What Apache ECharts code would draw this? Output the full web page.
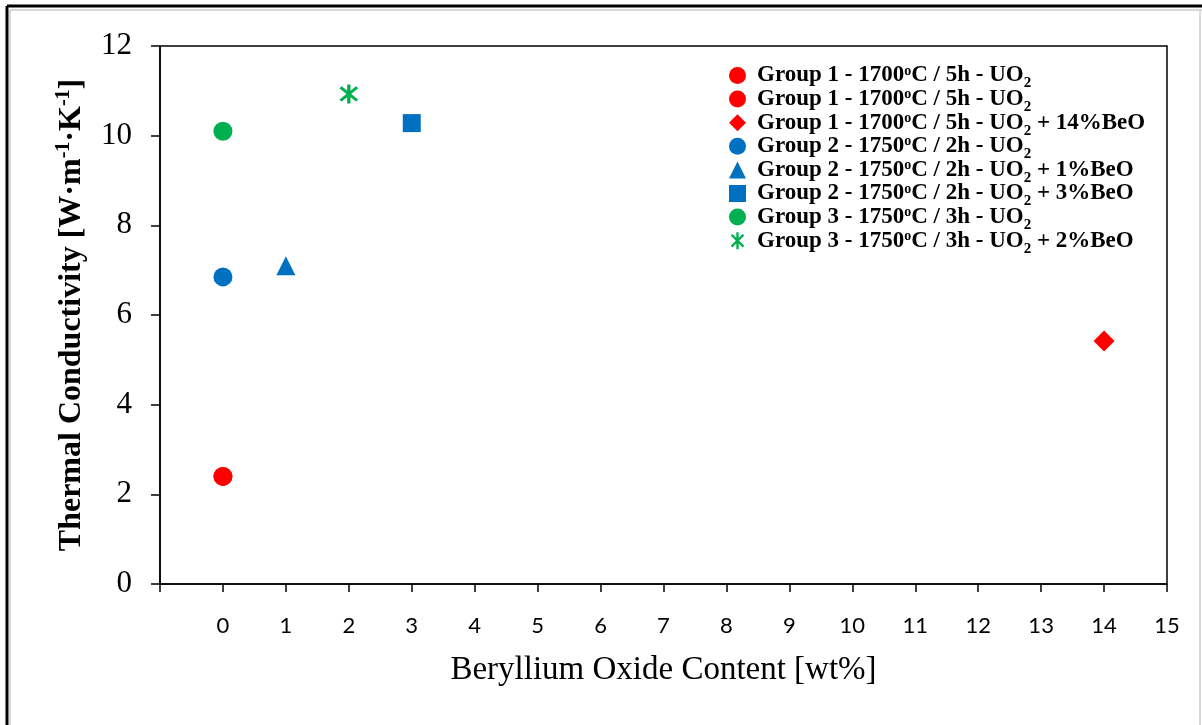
<!DOCTYPE html>
<html>
<head>
<meta charset="utf-8">
<script src="https://cdn.jsdelivr.net/npm/echarts@6/dist/echarts.min.js"></script>
<style>html,body{margin:0;padding:0;background:#fff;}#c{width:1202px;height:725px;}</style>
</head>
<body>
<div id="c"></div>
<script>
// Data
const seriesNames = [
  'G1 UO2 a', 'G1 UO2 b', 'G1 UO2 + 14%BeO',
  'G2 UO2', 'G2 UO2 + 1%BeO', 'G2 UO2 + 3%BeO',
  'G3 UO2', 'G3 UO2 + 2%BeO'
];
const legendLabels = [
  'Group 1 - 1700{sup|o}C / 5h - UO{sub|2}',
  'Group 1 - 1700{sup|o}C / 5h - UO{sub|2}',
  'Group 1 - 1700{sup|o}C / 5h - UO{sub|2} + 14%BeO',
  'Group 2 - 1750{sup|o}C / 2h - UO{sub|2}',
  'Group 2 - 1750{sup|o}C / 2h - UO{sub|2} + 1%BeO',
  'Group 2 - 1750{sup|o}C / 2h - UO{sub|2} + 3%BeO',
  'Group 3 - 1750{sup|o}C / 3h - UO{sub|2}',
  'Group 3 - 1750{sup|o}C / 3h - UO{sub|2} + 2%BeO'
];
const beoContent = [0, 0, 14, 0, 1, 3, 0, 2];
const conductivity = [2.4, 2.4, 5.42, 6.85, 7.1, 10.28, 10.1, 10.93];
const xTicks = [-1, 0, 1, 2, 3, 4, 5, 6, 7, 8, 9, 10, 11, 12, 13, 14, 15];
const yTicks = [0, 2, 4, 6, 8, 10, 12];

const RED = '#FF0000', BLUE = '#0070C0', GREEN = '#00B050';
const colors = [RED, RED, RED, BLUE, BLUE, BLUE, GREEN, GREEN];
const asterisk = 'path://M8.6,0 L11.4,0 L11.4,20 L8.6,20 Z M2,4 L4,2 L18,16 L16,18 Z M16,2 L18,4 L4,18 L2,16 Z';
const symbols = ['circle', 'circle', 'diamond', 'circle', 'triangle', 'rect', 'circle', asterisk];
const sizes = [19, 19, 21, 19, 19, 18, 19, 19];

const chart = echarts.init(document.getElementById('c'));
const labelMap = {};
seriesNames.forEach((n, i) => labelMap[n] = legendLabels[i]);

const series = seriesNames.map((n, i) => ({
  name: n,
  type: 'scatter',
  symbol: symbols[i],
  symbolSize: sizes[i],
  itemStyle: { color: colors[i], opacity: 1 },
  data: [[beoContent[i], conductivity[i]]]
}));

const serif = 'Liberation Serif';

chart.setOption({
  animation: false,
  backgroundColor: '#fff',
  graphic: [
    { type: 'line', shape: { x1: 7, y1: 6, x2: 1202, y2: 6 }, style: { stroke: '#000', lineWidth: 3 } },
    { type: 'line', shape: { x1: 7, y1: 6, x2: 7, y2: 725 }, style: { stroke: '#000', lineWidth: 3 } },
    { type: 'line', shape: { x1: 10, y1: 10, x2: 1202, y2: 10 }, style: { stroke: '#d9d9d9', lineWidth: 2 } },
    { type: 'line', shape: { x1: 10, y1: 10, x2: 10, y2: 725 }, style: { stroke: '#d9d9d9', lineWidth: 2 } },
    { type: 'line', shape: { x1: 1200, y1: 10, x2: 1200, y2: 725 }, style: { stroke: '#d9d9d9', lineWidth: 2 } }
  ],
  grid: { left: 160, right: 35, top: 46, bottom: 141, show: true, borderColor: '#000', borderWidth: 1.5, backgroundColor: 'transparent' },
  legend: {
    orient: 'vertical',
    left: 724,
    top: 59,
    itemWidth: 17,
    itemHeight: 17,
    itemGap: -3.4,
    data: seriesNames,
    formatter: n => '{gap| }' + labelMap[n],
    textStyle: {
      fontFamily: serif,
      fontWeight: 'bold',
      fontSize: 23,
      color: '#000',
      lineHeight: 23,
      rich: {
        gap: { width: 6, fontSize: 10, lineHeight: 23 },
        sup: { fontFamily: serif, fontWeight: 'bold', fontSize: 14, lineHeight: 14, verticalAlign: 'top' },
        sub: { fontFamily: serif, fontWeight: 'bold', fontSize: 15, lineHeight: 7, verticalAlign: 'top', padding: [12, 0, 0, 0] }
      }
    }
  },
  xAxis: {
    type: 'value',
    min: -1, max: 15, interval: 1,
    splitLine: { show: false },
    axisLine: { onZero: false, lineStyle: { color: '#000', width: 1.5 } },
    axisTick: { inside: false, length: 8, lineStyle: { color: '#000', width: 1.5 } },
    axisLabel: {
      margin: 31,
      fontFamily: 'Lato', fontSize: 22, color: '#000',
      formatter: v => (v < 0 ? '' : String(v))
    },
    name: 'Beryllium Oxide Content [wt%]',
    nameLocation: 'middle',
    nameGap: 70,
    nameTextStyle: { fontFamily: serif, fontSize: 33, color: '#000' }
  },
  yAxis: {
    type: 'value',
    min: 0, max: 12, interval: 2,
    splitLine: { show: false },
    axisLine: { onZero: false, lineStyle: { color: '#000', width: 1.5 } },
    axisTick: { inside: false, length: 9, lineStyle: { color: '#000', width: 1.5 } },
    axisLabel: { margin: 28, fontFamily: serif, fontSize: 31, color: '#000' },
    name: 'Thermal Conductivity [W·m{sup|-1}·K{sup|-1}]',
    nameLocation: 'middle',
    nameGap: 68,
    nameTextStyle: {
      fontFamily: serif, fontWeight: 'bold', fontSize: 32, color: '#000', lineHeight: 36,
      rich: {
        sup: { fontFamily: serif, fontWeight: 'bold', fontSize: 20, lineHeight: 20, verticalAlign: 'top', color: '#000' }
      }
    }
  },
  series: series
});
</script>
</body>
</html>
